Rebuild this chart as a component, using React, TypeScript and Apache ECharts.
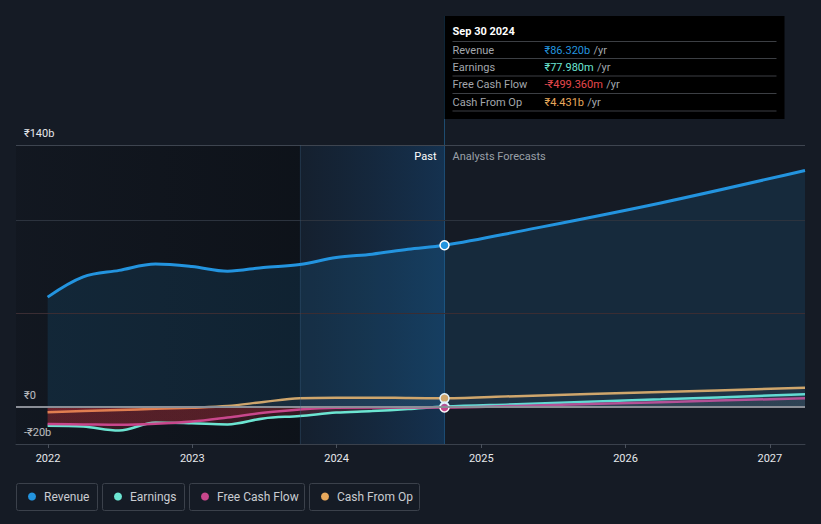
import React, { useEffect, useRef } from 'react';
import * as echarts from 'echarts';

const pastDates = ['2021-12-31', '2022-03-31', '2022-06-30', '2022-09-30', '2022-12-31', '2023-03-31', '2023-06-30', '2023-09-30', '2023-12-31', '2024-03-31', '2024-06-30', '2024-09-30'];
const forecastDates = ['2025-03-31', '2026-03-31', '2027-03-31'];

const revenuePast = [58.6, 69.4, 72.9, 76.3, 75.0, 72.5, 74.5, 76.0, 79.8, 81.6, 84.2, 86.32];
const revenueForecast = [93.5, 109.0, 126.4];
const earningsPast = [-10.2, -10.7, -12.8, -8.5, -8.9, -9.5, -6.3, -5.0, -3.2, -2.4, -1.3, 0.078];
const earningsForecast = [1.3, 3.9, 6.6];
const fcfPast = [-9.3, -9.5, -9.7, -9.2, -8.0, -5.8, -3.3, -1.5, -0.6, -0.5, -0.5, -0.499];
const fcfForecast = [0.4, 2.4, 4.5];
const cfoPast = [-3.0, -2.4, -1.8, -1.2, -0.6, 0.3, 2.5, 4.5, 4.8, 4.8, 4.6, 4.431];
const cfoForecast = [5.6, 7.8, 10.1];

const seriesNames = ['Revenue', 'Earnings', 'Free Cash Flow', 'Cash From Op'];
const seriesColors = ['#2394df', '#6ce5d2', '#c8478c', '#e8a85c'];

const xMin = '2021-10-12';
const xMax = '2027-03-31';
const highlightStart = '2023-09-30';
const currentDate = '2024-09-30';

const yMin = -20;
const yMax = 140;
const yGridValues = [50, 100, 140];
const yLabelMap: Record<number, string> = { 140: '₹140b', 0: '₹0', [-20]: '-₹20b' };

const tooltipTitle = 'Sep 30 2024';
const tooltipLabels = ['Revenue', 'Earnings', 'Free Cash Flow', 'Cash From Op'];
const tooltipValues = ['₹86.320b', '₹77.980m', '-₹499.360m', '₹4.431b'];
const tooltipValueColors = ['#2394df', '#6ce5d2', '#e5484d', '#e8a85c'];

const FONT = 'Roboto, "Noto Sans", "DejaVu Sans", sans-serif';

function buildData(past: number[], forecast: number[], color: string) {
  const dates = pastDates.concat(forecastDates);
  const vals = past.concat(forecast);
  return vals.map((v, i) => {
    if (dates[i] === currentDate) {
      return {
        value: [dates[i], v],
        symbol: 'circle',
        symbolSize: 9,
        itemStyle: { color, borderColor: '#ffffff', borderWidth: 1.5 },
      };
    }
    return { value: [dates[i], v] };
  });
}

export default function App() {
  const ref = useRef<HTMLDivElement>(null);

  useEffect(() => {
    document.body.style.margin = '0';
    document.body.style.background = '#151b25';
    if (!ref.current) return;
    const chart = echarts.init(ref.current, undefined, { renderer: 'svg' });

    const pastArrays = [revenuePast, earningsPast, fcfPast, cfoPast];
    const fcArrays = [revenueForecast, earningsForecast, fcfForecast, cfoForecast];

    const makeSeries = (idx: number, zeroFrac: number) => {
      const color = seriesColors[idx];
      const base: any = {
        name: seriesNames[idx],
        type: 'line',
        smooth: 0.35,
        symbol: 'none',
        showSymbol: true,
        lineStyle: { color, width: idx === 0 ? 3 : 2.5 },
        itemStyle: { color },
        data: buildData(pastArrays[idx], fcArrays[idx], color),
        silent: true,
        z: idx === 0 ? 5 : idx === 3 ? 3 : idx === 1 ? 4 : 4.5,
      };
      if (idx === 0) {
        base.areaStyle = { color: 'rgba(35,148,223,0.18)' };
        base.markArea = {
          silent: true,
          data: [
            [
              {
                xAxis: xMin,
                itemStyle: {
                  color: new echarts.graphic.LinearGradient(0, 0, 1, 0, [
                    { offset: 0, color: 'rgba(5,8,12,0.18)' },
                    { offset: 1, color: 'rgba(5,8,12,0.45)' },
                  ]),
                },
              },
              { xAxis: highlightStart },
            ],
            [
              {
                xAxis: highlightStart,
                itemStyle: {
                  color: new echarts.graphic.LinearGradient(0, 0, 1, 0, [
                    { offset: 0, color: 'rgba(20,60,100,0.15)' },
                    { offset: 1, color: 'rgba(20,72,122,0.5)' },
                  ]),
                },
              },
              { xAxis: currentDate },
            ],
          ],
        };
        base.markLine = {
          silent: true,
          symbol: 'none',
          label: { show: false },
          data: [
            ...yGridValues.map((v) => ({
              yAxis: v,
              lineStyle: { color: v === 50 ? '#3a2d33' : v === 140 ? '#3e4550' : '#2c333e', width: 1, type: 'solid' },
            })),
            { yAxis: 0, lineStyle: { color: '#8a8e96', width: 2, type: 'solid' } },
            { xAxis: highlightStart, lineStyle: { color: 'rgba(60,95,130,0.3)', width: 1, type: 'solid' } },
          ],
        };
      } else {
        base.areaStyle = {
          color: new echarts.graphic.LinearGradient(0, 0, 0, 524, [
            { offset: 0, color: 'rgba(140,145,155,0.12)' },
            { offset: zeroFrac, color: 'rgba(140,145,155,0.12)' },
            { offset: Math.min(1, zeroFrac + 0.0005), color: 'rgba(210,50,60,0.28)' },
            { offset: 1, color: 'rgba(210,50,60,0.28)' },
          ], true),
        };
      }
      return base;
    };

    const buildOption = (zeroFrac: number, graphic: any[]) => ({
      animation: false,
      backgroundColor: '#151b25',
      textStyle: { fontFamily: FONT },
      grid: { left: 16, right: 16, top: 145, bottom: 80, containLabel: false },
      xAxis: {
        type: 'time',
        min: xMin,
        max: xMax,
        minInterval: 365 * 24 * 3600 * 1000,
        maxInterval: 366 * 24 * 3600 * 1000,
        axisLine: { onZero: false, lineStyle: { color: '#3a414c', width: 1 } },
        axisTick: { show: true, length: 4, lineStyle: { color: '#4a515c' } },
        splitLine: { show: false },
        axisLabel: {
          color: '#e6e8eb',
          fontSize: 11,
          margin: 9,
          showMinLabel: false,
          showMaxLabel: false,
          formatter: (value: number) => {
            const d = new Date(value);
            return d.getMonth() === 0 && d.getDate() === 1 ? String(d.getFullYear()) : '';
          },
        },
      },
      yAxis: {
        type: 'value',
        min: yMin,
        max: yMax,
        interval: 10,
        splitLine: { show: false },
        axisLine: { show: false },
        axisTick: { show: false },
        axisLabel: {
          inside: true,
          margin: 8,
          color: '#e6e8eb',
          fontSize: 11,
          verticalAlign: 'bottom',
          padding: [0, 0, 6, 0],
          formatter: (v: number) => yLabelMap[v] ?? '',
        },
      },
      series: [makeSeries(3, zeroFrac), makeSeries(1, zeroFrac), makeSeries(2, zeroFrac), makeSeries(0, zeroFrac)],
      graphic,
    });

    chart.setOption(buildOption(0.776, []));

    const toPx = (d: string, v: number) => chart.convertToPixel({ xAxisIndex: 0, yAxisIndex: 0 }, [d, v]) as number[];
    const cur = toPx(currentDate, 0);
    const top = toPx(currentDate, yMax);
    const bottom = toPx(currentDate, yMin);
    const zeroFrac = cur[1] / 524;
    const cx = cur[0];

    const graphic: any[] = [];
    graphic.push({
      type: 'line',
      silent: true,
      z: 1,
      shape: { x1: cx, y1: 16, x2: cx, y2: bottom[1] },
      style: { stroke: '#1f4d72', lineWidth: 1 },
    });
    graphic.push({
      type: 'text',
      z: 20,
      x: cx - 8,
      y: top[1] + 11,
      style: { text: 'Past', fill: '#ffffff', font: `11px ${FONT}`, align: 'right', verticalAlign: 'middle' },
    });
    graphic.push({
      type: 'text',
      z: 20,
      x: cx + 8,
      y: top[1] + 11,
      style: { text: 'Analysts Forecasts', fill: '#9aa0a8', font: `11px ${FONT}`, align: 'left', verticalAlign: 'middle' },
    });
    const boxX = cx;
    graphic.push({
      type: 'rect',
      z: 50,
      shape: { x: boxX, y: 16, width: 340, height: 103 },
      style: { fill: '#000000' },
    });
    graphic.push({
      type: 'text',
      z: 51,
      x: boxX + 8,
      y: 31,
      style: { text: tooltipTitle, fill: '#ffffff', font: `bold 11px ${FONT}`, verticalAlign: 'middle' },
    });
    const sepYs = [41.5, 58.5, 76, 93.5, 111];
    sepYs.forEach((sy) => {
      graphic.push({
        type: 'line',
        z: 51,
        shape: { x1: boxX + 8, y1: sy, x2: boxX + 332, y2: sy },
        style: { stroke: '#3c3f44', lineWidth: 1 },
      });
    });
    tooltipLabels.forEach((lab, i) => {
      const ry = (sepYs[i] + sepYs[i + 1]) / 2;
      graphic.push({
        type: 'text',
        z: 51,
        x: boxX + 8,
        y: ry,
        style: { text: lab, fill: '#a3a7ad', font: `11px ${FONT}`, verticalAlign: 'middle' },
      });
      graphic.push({
        type: 'text',
        z: 51,
        x: boxX + 100,
        y: ry,
        style: {
          text: `{v|${tooltipValues[i]}} {u|/yr}`,
          verticalAlign: 'middle',
          rich: {
            v: { fill: tooltipValueColors[i], font: `11px ${FONT}` },
            u: { fill: '#a3a7ad', font: `11px ${FONT}` },
          },
        },
      });
    });
    const legendBoxes = [
      { x: 16, w: 81 },
      { x: 102, w: 82 },
      { x: 189, w: 115 },
      { x: 309, w: 110 },
    ];
    seriesNames.forEach((name, i) => {
      const b = legendBoxes[i];
      graphic.push({
        type: 'rect',
        shape: { x: b.x + 0.5, y: 483.5, width: b.w, height: 27, r: 2 },
        style: { fill: 'transparent', stroke: '#3b414b', lineWidth: 1 },
      });
      graphic.push({
        type: 'circle',
        shape: { cx: b.x + 16, cy: 496.5, r: 4 },
        style: { fill: seriesColors[i] },
      });
      graphic.push({
        type: 'text',
        x: b.x + 28,
        y: 496.5,
        style: { text: name, fill: '#c9ccd1', font: `12px ${FONT}`, verticalAlign: 'middle' },
      });
    });

    chart.setOption(buildOption(zeroFrac, graphic), { notMerge: true });

    return () => {
      chart.dispose();
    };
  }, []);

  return <div ref={ref} style={{ width: 821, height: 524 }} />;
}
